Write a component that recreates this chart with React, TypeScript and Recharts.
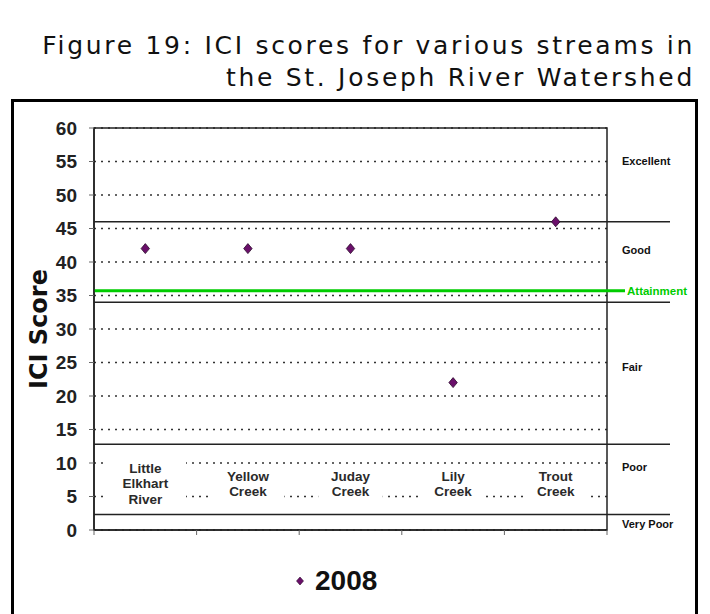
import React from 'react';
import {
  ScatterChart,
  Scatter,
  XAxis,
  YAxis,
  CartesianGrid,
  ReferenceLine,
  ReferenceArea,
  Legend,
} from 'recharts';

// ---------- data ----------
const categories = ['Little Elkhart River', 'Yellow Creek', 'Juday Creek', 'Lily Creek', 'Trout Creek'];
const categoryLines = [
  ['Little', 'Elkhart', 'River'],
  ['Yellow', 'Creek'],
  ['Juday', 'Creek'],
  ['Lily', 'Creek'],
  ['Trout', 'Creek'],
];
const scores2008 = [42, 42, 42, 22, 46];
const seriesName = '2008';
const yTicks = [0, 5, 10, 15, 20, 25, 30, 35, 40, 45, 50, 55, 60];
const bandBoundaries = [46, 34, 12.8, 2.3];
const attainmentScore = 35.7;
const attainmentLabel = 'Attainment';
const bandLabels = ['Excellent', 'Good', 'Fair', 'Poor', 'Very Poor'];
const bandLabelScores = [55, 41.8, 24.3, 9.4, 0.9];
const titleLines = ['Figure 19: ICI scores for various streams in', 'the St. Joseph River Watershed'];
const yAxisTitle = 'ICI Score';

const data = scores2008.map((score, i) => ({ pos: i + 0.5, score, name: categories[i] }));
// ticks at category boundaries (integers) and category centres (halves)
const xTicks: number[] = [];
for (let i = 0; i <= categories.length; i++) {
  xTicks.push(i);
  if (i < categories.length) xTicks.push(i + 0.5);
}

// ---------- styles ----------
const PURPLE = '#6A0F6A';
const GREEN = '#00CC00';
const ARIAL = '"Liberation Sans", Arial, sans-serif';

const Diamond = (p: any) => {
  const { cx, cy } = p;
  const r = 5;
  return (
    <polygon
      points={`${cx},${cy - r} ${cx + r - 0.8},${cy} ${cx},${cy + r} ${cx - r + 0.8},${cy}`}
      fill={PURPLE}
      stroke="#2B0A2B"
      strokeWidth={0.8}
    />
  );
};

const XTick = (props: any) => {
  const { x, y, payload } = props;
  const v = payload.value;
  if (Number.isInteger(v)) {
    // boundary tick mark just below the axis line
    return <line x1={x} x2={x} y1={y - 5} y2={y} stroke="#666" strokeWidth={1} />;
  }
  const idx = Math.round(v - 0.5);
  const lines = categoryLines[idx] || [];
  const lh = 15.5;
  const center = y - 51;
  const top = center - (lines.length * lh) / 2;
  const maxLen = Math.max(...lines.map((l) => l.length));
  const w = maxLen * 8.5 + 22;
  return (
    <g>
      <rect x={x - w / 2} y={top - 1} width={w} height={lines.length * lh + 3} fill="#fff" />
      {lines.map((l, i) => (
        <text
          key={i}
          x={x}
          y={top + lh * i + lh - 3.5}
          textAnchor="middle"
          fontFamily={ARIAL}
          fontWeight={700}
          fontSize={13.5}
          fill="#2a2a2a"
        >
          {l}
        </text>
      ))}
    </g>
  );
};

const extendedLine = (ext: number, stroke: string, width: number) => (p: any) => (
  <line x1={p.x1} y1={p.y1} x2={p.x2 + ext} y2={p.y2} stroke={stroke} strokeWidth={width} />
);

const YTitle = (props: any) => {
  const { viewBox } = props;
  const cy = viewBox.y + viewBox.height / 2;
  const cx = 39;
  return (
    <text
      x={cx}
      y={cy}
      transform={`rotate(-90 ${cx} ${cy})`}
      textAnchor="middle"
      dominantBaseline="central"
      fontFamily='"DejaVu Sans", Verdana, sans-serif'
      fontWeight={700}
      fontSize={24}
      fill="#111"
    >
      {yAxisTitle}
    </text>
  );
};

const LegendContent = (props: any) => {
  const items = props.payload || [];
  return (
    <div style={{ display: 'flex', alignItems: 'center' }}>
      {items.map((it: any, i: number) => (
        <div key={i} style={{ display: 'flex', alignItems: 'center' }}>
          <svg width={12} height={12} style={{ display: 'block' }}>
            <polygon points="6,2 9.5,6 6,10 2.5,6" fill={PURPLE} stroke="#2B0A2B" strokeWidth={0.6} />
          </svg>
          <span
            style={{
              marginLeft: 9,
              fontFamily: ARIAL,
              fontWeight: 700,
              fontSize: 28,
              color: '#111',
              lineHeight: '30px',
            }}
          >
            {it.value}
          </span>
        </div>
      ))}
    </div>
  );
};

export default function App() {
  return (
    <div style={{ position: 'absolute', left: 0, top: 0, width: 710, height: 614, background: '#fff', overflow: 'hidden' }}>
      <div
        style={{
          position: 'absolute',
          right: 15,
          top: 30,
          textAlign: 'right',
          fontFamily: '"DejaVu Sans", Verdana, sans-serif',
          fontSize: 25,
          letterSpacing: '2.7px',
          lineHeight: '32px',
          color: '#111',
          whiteSpace: 'pre',
        }}
      >
        {titleLines.map((t, i) => (
          <div key={i}>{t}</div>
        ))}
      </div>
      <div
        style={{
          position: 'absolute',
          left: 11,
          top: 99,
          width: 687,
          height: 600,
          border: '3px solid #000',
          boxSizing: 'border-box',
        }}
      />
      <div style={{ position: 'absolute', left: 0, top: 0 }}>
        <ScatterChart width={710} height={614} margin={{ top: 128, right: 103, left: 0, bottom: 78 }}>
          <CartesianGrid
            vertical={false}
            horizontal
            stroke="#333"
            strokeWidth={1.7}
            strokeDasharray="2 5"
            horizontalValues={yTicks}
          />
          <XAxis
            type="number"
            dataKey="pos"
            domain={[0, categories.length]}
            ticks={xTicks}
            interval={0}
            tick={<XTick />}
            tickSize={5}
            tickMargin={0}
            height={6}
            axisLine={{ stroke: '#222', strokeWidth: 1.5 }}
            tickLine={false}
          />
          <YAxis
            type="number"
            dataKey="score"
            domain={[0, 60]}
            ticks={yTicks}
            interval={0}
            width={94}
            tickSize={5}
            tickMargin={12}
            axisLine={{ stroke: '#222', strokeWidth: 1.5 }}
            tickLine={{ stroke: '#666' }}
            tick={{ fontFamily: ARIAL, fontWeight: 700, fontSize: 19, fill: '#222' }}
            label={<YTitle />}
          />
          <ReferenceArea
            x1={0}
            x2={categories.length}
            y1={0}
            y2={60}
            fill="none"
            stroke="#222"
            strokeWidth={1.5}
            ifOverflow="visible"
          />
          {bandBoundaries.map((b) => (
            <ReferenceLine key={b} y={b} shape={extendedLine(63, '#222', 1.5)} />
          ))}
          {bandLabels.map((l, i) => (
            <ReferenceLine
              key={l}
              y={bandLabelScores[i]}
              stroke="none"
              label={{
                value: l,
                position: 'right',
                offset: 15,
                fill: '#111',
                fontSize: 11,
                fontWeight: 700,
                fontFamily: ARIAL,
              }}
            />
          ))}
          <ReferenceLine
            y={attainmentScore}
            shape={extendedLine(18, GREEN, 3)}
            label={{
              value: attainmentLabel,
              position: 'right',
              offset: 20,
              fill: GREEN,
              fontSize: 11.5,
              fontWeight: 700,
              fontFamily: ARIAL,
            }}
          />
          <Scatter
            name={seriesName}
            data={data}
            dataKey="score"
            shape={<Diamond />}
            isAnimationActive={false}
          />
          <Legend
            layout="horizontal"
            align="center"
            verticalAlign="middle"
            wrapperStyle={{ left: 294, top: 566, width: 120, bottom: 'auto' }}
            content={<LegendContent />}
          />
        </ScatterChart>
      </div>
    </div>
  );
}
